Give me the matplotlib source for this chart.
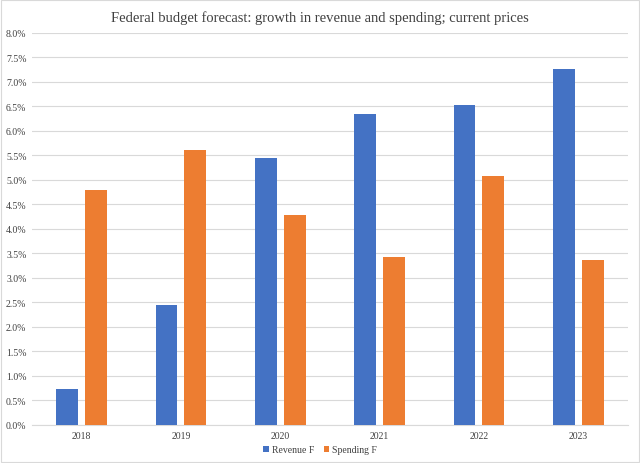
import numpy as np
import matplotlib.pyplot as plt
from matplotlib.ticker import PercentFormatter

years = ["2018", "2019", "2020", "2021", "2022", "2023"]
revenue = [0.73, 2.45, 5.45, 6.35, 6.52, 7.27]
spending = [4.80, 5.60, 4.29, 3.43, 5.08, 3.36]

plt.rcParams['font.family'] = ['Liberation Serif', 'DejaVu Serif']

fig = plt.figure(figsize=(6.4, 4.64), dpi=100)
ax = fig.add_axes([0.05, 0.082, 0.931, 0.845])

x = np.arange(len(years))
w = 0.22
ax.bar(x - 0.145, revenue, w, color='#4472C4', label='Revenue F', zorder=3)
ax.bar(x + 0.145, spending, w, color='#ED7D31', label='Spending F', zorder=3)

ax.set_xlim(-0.5, len(years) - 0.5)
ax.set_ylim(0, 8)
ax.set_yticks(np.arange(0, 8.01, 0.5))
ax.yaxis.set_major_formatter(PercentFormatter(decimals=1))
ax.set_xticks(x)
ax.set_xticklabels(years)
ax.tick_params(axis='both', length=0, labelsize=7, colors='#404040', pad=4)
ax.grid(axis='y', color='#d9d9d9', linewidth=0.8, zorder=0)
for s in ['top', 'right', 'left']:
    ax.spines[s].set_visible(False)
ax.spines['bottom'].set_color('#d9d9d9')

fig.suptitle("Federal budget forecast: growth in revenue and spending; current prices",
             y=0.975, fontsize=10.5, color='#404040')
fig.legend(loc='lower center', bbox_to_anchor=(0.5, 0.0), ncol=2, frameon=False,
           fontsize=7, handlelength=0.6, handleheight=0.6, columnspacing=1.0,
           handletextpad=0.3, labelcolor='#404040')

fig.patches.append(plt.Rectangle((0.002, 0.002), 0.996, 0.996, transform=fig.transFigure,
                                 fill=False, edgecolor='#d9d9d9', linewidth=0.8))

fig.savefig("out.png", dpi=100)
